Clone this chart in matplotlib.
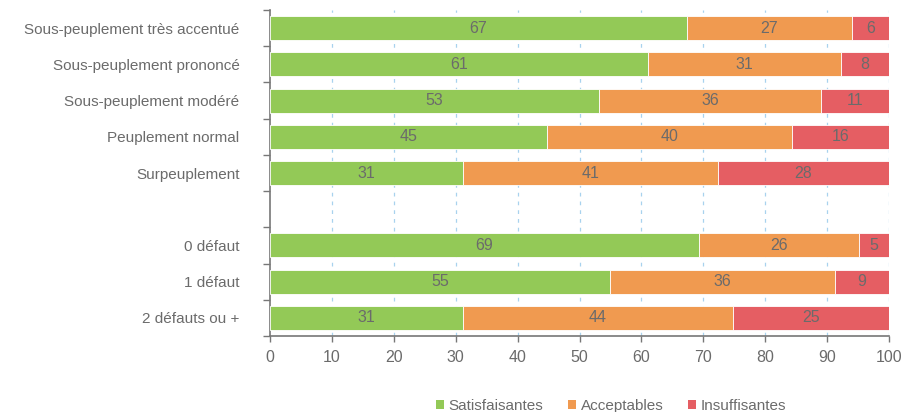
import matplotlib
matplotlib.use("Agg")
import matplotlib.pyplot as plt
from matplotlib.patches import Patch

plt.rcParams['font.family'] = ['Liberation Sans', 'DejaVu Sans']

categories = ["Sous-peuplement très accentué", "Sous-peuplement prononcé",
              "Sous-peuplement modéré", "Peuplement normal", "Surpeuplement",
              "", "0 défaut", "1 défaut", "2 défauts ou +"]
satisfaisantes = [67.4, 61.0, 53.2, 44.7, 31.2, None, 69.3, 55.0, 31.1]
acceptables    = [26.6, 31.2, 35.8, 39.7, 41.1, None, 25.8, 36.3, 43.7]
insuffisantes  = [6.0, 7.8, 11.0, 15.6, 27.7, None, 4.9, 8.7, 25.2]
series_names = ["Satisfaisantes", "Acceptables", "Insuffisantes"]
colors = ["#93c957", "#f09a50", "#e55e63"]
xticks = list(range(0, 101, 10))

txt = "#6b6b6b"
fig = plt.figure(figsize=(9.15, 4.12), dpi=100)
ax = fig.add_axes([270/915, 1-336/412, (889-270)/915, (336-10)/412])

ys = list(range(len(categories)))
for yi in ys:
    if satisfaisantes[yi] is None:
        continue
    left = 0
    for vals, c in zip([satisfaisantes, acceptables, insuffisantes], colors):
        v = vals[yi]
        ax.barh(yi, v, left=left, height=0.66, color=c, edgecolor="white", linewidth=0.6, zorder=3)
        ax.text(left + v/2, yi, f"{round(v)}", ha="center", va="center",
                fontsize=11.5, color=txt, zorder=4)
        left += v

ax.set_xlim(0, 100)
ax.set_ylim(len(categories)-0.5, -0.5)
ax.set_xticks(xticks)
ax.set_xticklabels([str(t) for t in xticks], fontsize=11.5, color=txt)
ax.set_yticks(ys)
ax.set_yticklabels(categories, fontsize=11, color=txt)
ax.tick_params(axis='y', length=0, pad=22)
ax.set_yticks([y - 0.5 for y in ys] + [len(categories)-0.5], minor=True)
ax.tick_params(axis='y', which='minor', length=5, color="#777777", width=1)
ax.tick_params(axis='x', length=4, color="#777777", width=1, pad=6)
for t in xticks[1:]:
    ax.axvline(t, color="#a8d2ee", linestyle=(0, (3, 4)), linewidth=0.9, zorder=1)
for s in ["top", "right"]:
    ax.spines[s].set_visible(False)
for s in ["left", "bottom"]:
    ax.spines[s].set_color("#777777")
    ax.spines[s].set_linewidth(1.2)

handles = [Patch(facecolor=c, edgecolor="none") for c in colors]
fig.legend(handles, series_names, loc="lower center", bbox_to_anchor=(611/915, -0.035),
           ncol=3, frameon=False, fontsize=11, labelcolor=txt,
           handlelength=0.55, handleheight=0.55, handletextpad=0.3, columnspacing=1.6)

fig.savefig("out.png", dpi=100)
